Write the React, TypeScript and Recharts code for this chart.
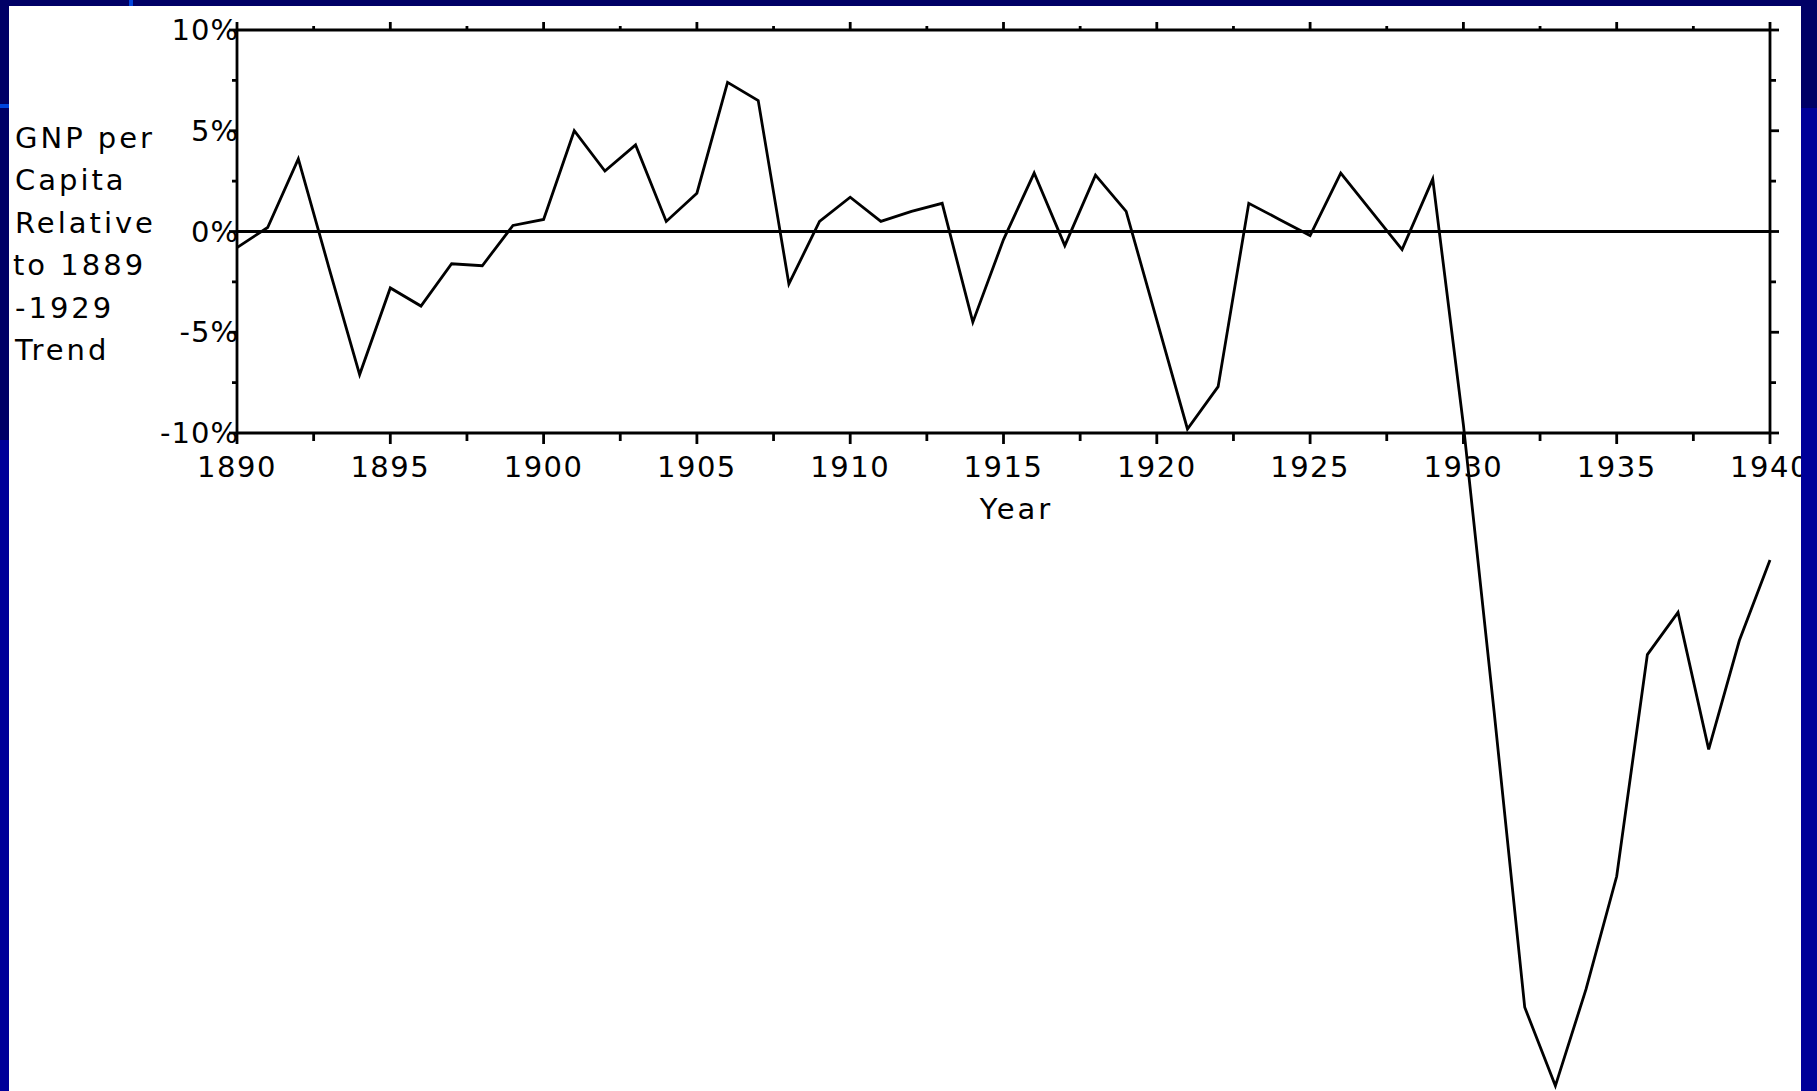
import React from 'react';
import { LineChart, Line, XAxis, YAxis, ReferenceLine, Label } from 'recharts';

// ---- data ----
const years = [
  1890, 1891, 1892, 1893, 1894, 1895, 1896, 1897, 1898, 1899,
  1900, 1901, 1902, 1903, 1904, 1905, 1906, 1907, 1908, 1909,
  1910, 1911, 1912, 1913, 1914, 1915, 1916, 1917, 1918, 1919,
  1920, 1921, 1922, 1923, 1924, 1925, 1926, 1927, 1928, 1929,
  1930, 1931, 1932, 1933, 1934, 1935, 1936, 1937, 1938, 1939,
  1940,
];
// GNP per capita relative to 1889-1929 trend, %
const gnpGap = [
  -0.8, 0.2, 3.6, -1.8, -7.1, -2.8, -3.7, -1.6, -1.7, 0.3,
  0.6, 5.0, 3.0, 4.3, 0.5, 1.9, 7.4, 6.5, -2.6, 0.5,
  1.7, 0.5, 1.0, 1.4, -4.5, -0.4, 2.9, -0.7, 2.8, 1.0,
  -4.4, -9.8, -7.7, 1.4, 0.6, -0.2, 2.9, 1.0, -0.9, 2.6,
  -9.6, -23.8, -38.5, -42.4, -37.6, -32.0, -21.0, -18.9, -25.7, -20.3,
  -16.3,
];
const xTicks = [
  1890, 1892.5, 1895, 1897.5, 1900, 1902.5, 1905, 1907.5, 1910, 1912.5,
  1915, 1917.5, 1920, 1922.5, 1925, 1927.5, 1930, 1932.5, 1935, 1937.5, 1940,
];
const yTicks = [-10, -7.5, -5, -2.5, 0, 2.5, 5, 7.5, 10];
const yLabelLines = ['GNP per', 'Capita', 'Relative', 'to 1889', '-1929', 'Trend'];
const xTitle = 'Year';

const data = years.map((year, i) => ({ year, gap: gnpGap[i] }));

// ---- style ----
const INK = '#000000';
const SW = 2.8;
const FONT = '"DejaVu Sans", Verdana, sans-serif';
const DARK = '#000066';
const BLUE = '#000099';
const BRIGHT = '#0044dd';

const isMajor = (v: number) => Math.abs(v % 5) < 1e-9;

function BottomTick(props: any) {
  const { x, y, payload } = props;
  const v = payload.value as number;
  const major = isMajor(v);
  return (
    <g>
      <line x1={x} y1={y} x2={x} y2={y + (major ? 11 : 8)} stroke={INK} strokeWidth={SW} />
      {major && (
        <text x={x} y={y + 44} textAnchor="middle" fontFamily={FONT} fontSize={29}
          letterSpacing={1.5} fill={INK}>{v}</text>
      )}
    </g>
  );
}

function TopTick(props: any) {
  const { x, y, payload } = props;
  const major = isMajor(payload.value);
  return <line x1={x} y1={y} x2={x} y2={y - (major ? 8 : 4)} stroke={INK} strokeWidth={SW} />;
}

function LeftTick(props: any) {
  const { x, y, payload } = props;
  const v = payload.value as number;
  const major = isMajor(v);
  return (
    <g>
      <line x1={x} y1={y} x2={x - (major ? 8 : 5)} y2={y} stroke={INK} strokeWidth={SW} />
      {major && (
        <text x={x + 2} y={y + 10} textAnchor="end" fontFamily={FONT} fontSize={29}
          letterSpacing={1} fill={INK}>{`${v}%`}</text>
      )}
    </g>
  );
}

function RightTick(props: any) {
  const { x, y, payload } = props;
  const major = isMajor(payload.value);
  return <line x1={x} y1={y} x2={x + (major ? 9 : 6)} y2={y} stroke={INK} strokeWidth={SW} />;
}

function XTitle(props: any) {
  const vb = props.viewBox || {};
  return (
    <text x={vb.x + vb.width / 2 + 13} y={vb.y + vb.height} textAnchor="middle"
      fontFamily={FONT} fontSize={29} letterSpacing={3} fill={INK}>{xTitle}</text>
  );
}

function YTitle(props: any) {
  const vb = props.viewBox || {};
  return (
    <text fontFamily={FONT} fontSize={29} letterSpacing={3} fill={INK}>
      {yLabelLines.map((t, i) => (
        <tspan key={i} x={vb.x + (i === 3 ? 13 : 15)} y={vb.y + 118 + i * 42.4}>{t}</tspan>
      ))}
    </text>
  );
}

export default function App() {
  return (
    <div style={{ position: 'absolute', left: 0, top: 0, width: 1817, height: 1091, background: '#ffffff', overflow: 'hidden' }}>
      <style>{`.recharts-line, .recharts-line * { clip-path: none !important; } .recharts-surface { overflow: visible; }`}</style>
      <div style={{ position: 'absolute', left: 0, top: 0 }}>
        <LineChart width={1817} height={1091} data={data}
          margin={{ top: 6, right: 7, bottom: 572, left: 0 }}>
          <XAxis xAxisId="bottom" dataKey="year" type="number" domain={[1890, 1940]} allowDataOverflow
            ticks={xTicks} interval={0} height={86} tickSize={0} tickMargin={0}
            tickLine={false} tick={<BottomTick />} axisLine={{ stroke: INK, strokeWidth: SW }}>
            <Label content={<XTitle />} />
          </XAxis>
          <XAxis xAxisId="top" orientation="top" dataKey="year" type="number" domain={[1890, 1940]} allowDataOverflow
            ticks={xTicks} interval={0} height={24} tickSize={0} tickMargin={0}
            tickLine={false} tick={<TopTick />} axisLine={{ stroke: INK, strokeWidth: SW }} />
          <YAxis yAxisId="left" type="number" domain={[-10, 10]} allowDataOverflow
            ticks={yTicks} interval={0} width={237} tickSize={0} tickMargin={0}
            tickLine={false} tick={<LeftTick />} axisLine={{ stroke: INK, strokeWidth: SW }}>
            <Label content={<YTitle />} />
          </YAxis>
          <YAxis yAxisId="right" orientation="right" type="number" domain={[-10, 10]} allowDataOverflow
            ticks={yTicks} interval={0} width={40} tickSize={0} tickMargin={0}
            tickLine={false} tick={<RightTick />} axisLine={{ stroke: INK, strokeWidth: SW }} />
          <ReferenceLine xAxisId="bottom" yAxisId="left" y={0} stroke={INK} strokeWidth={SW} />
          <Line xAxisId="bottom" yAxisId="left" dataKey="gap" type="linear" stroke={INK}
            strokeWidth={SW} dot={false} activeDot={false} isAnimationActive={false} />
        </LineChart>
      </div>
      {/* slide frame */}
      <div style={{ position: 'absolute', left: 0, top: 0, width: 1817, height: 6, background: DARK }} />
      <div style={{ position: 'absolute', left: 0, top: 0, width: 9, height: 440, background: DARK }} />
      <div style={{ position: 'absolute', left: 0, top: 440, width: 9, height: 651, background: BLUE }} />
      <div style={{ position: 'absolute', left: 1801, top: 0, width: 16, height: 108, background: DARK }} />
      <div style={{ position: 'absolute', left: 1801, top: 108, width: 16, height: 983, background: BLUE }} />
      <div style={{ position: 'absolute', left: 129, top: 0, width: 4, height: 6, background: BRIGHT }} />
      <div style={{ position: 'absolute', left: 0, top: 104, width: 9, height: 4, background: BRIGHT }} />
    </div>
  );
}
